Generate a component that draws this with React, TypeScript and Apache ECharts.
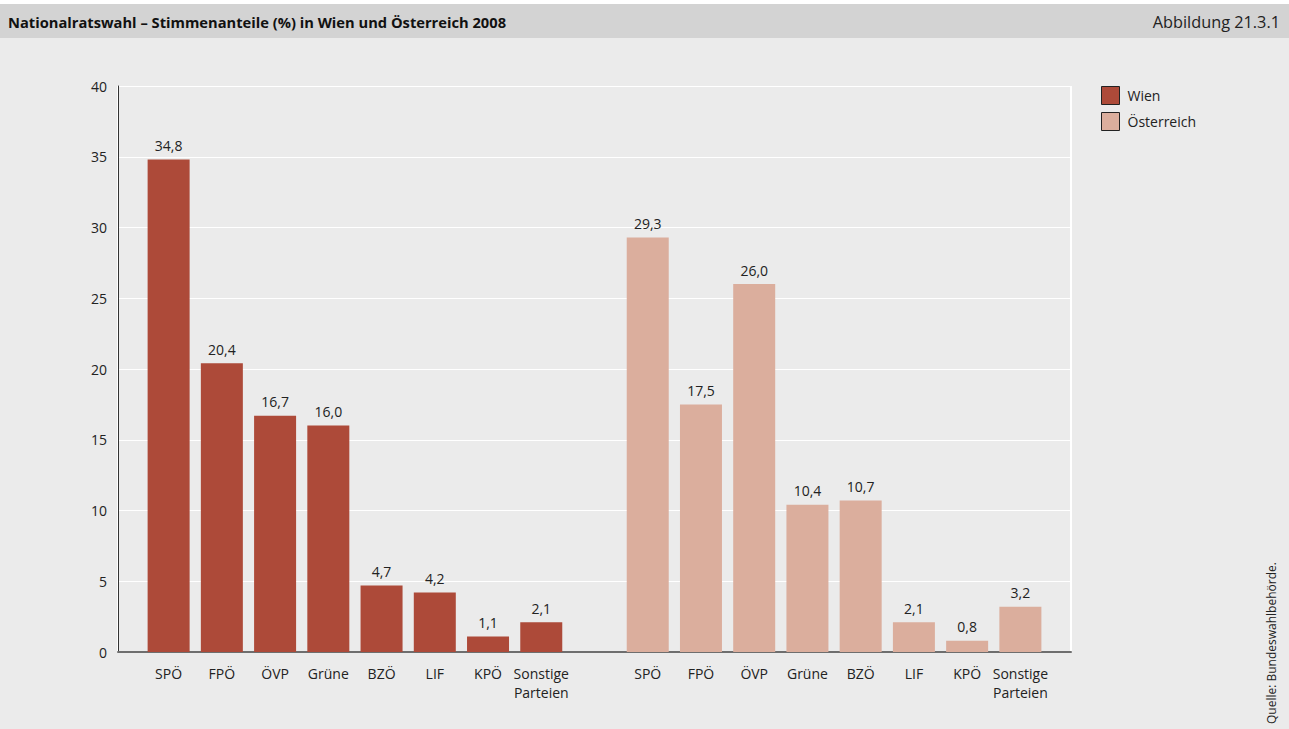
import React, { useEffect, useRef } from "react";
import * as echarts from "echarts";

const parties = ["SPÖ", "FPÖ", "ÖVP", "Grüne", "BZÖ", "LIF", "KPÖ", "Sonstige\nParteien"];
const wienValues = [34.8, 20.4, 16.7, 16.0, 4.7, 4.2, 1.1, 2.1];
const oesterreichValues = [29.3, 17.5, 26.0, 10.4, 10.7, 2.1, 0.8, 3.2];
const seriesNames = ["Wien", "Österreich"];
const yTicks = { min: 0, max: 40, interval: 5 };
const titleText = "Nationalratswahl – Stimmenanteile (%) in Wien und Österreich 2008";
const figureText = "Abbildung 21.3.1";
const sourceText = "Quelle: Bundeswahlbehörde.";

const FONT = "'Open Sans', 'Noto Sans', sans-serif";

export default function App() {
  const ref = useRef<HTMLDivElement>(null);

  useEffect(() => {
    if (!ref.current) return;
    const chart = echarts.init(ref.current, null, { renderer: "svg" });

    const categories = [...parties, "", ...parties];
    const wienData = categories.map((_, i) => (i < 8 ? wienValues[i] : "-"));
    const oeData = categories.map((_, i) => (i > 8 ? oesterreichValues[i - 9] : "-"));
    const fmt = (v: number) => v.toFixed(1).replace(".", ",");

    const labelStyle = {
      show: true,
      position: "top" as const,
      distance: 7,
      color: "#222",
      fontSize: 14,
      fontFamily: FONT,
      formatter: (p: any) => fmt(p.value as number),
    };

    chart.setOption({
      animation: false,
      backgroundColor: "#ebebeb",
      textStyle: { fontFamily: FONT },
      graphic: [
        { type: "rect", shape: { x: 0, y: 0, width: 1289, height: 4 }, style: { fill: "#ffffff" }, z: -1 },
        { type: "rect", shape: { x: 0, y: 4, width: 1289, height: 34 }, style: { fill: "#d3d3d3" }, z: -1 },
        {
          type: "text",
          x: 8,
          y: 22,
          style: { text: titleText, fill: "#111", font: `bold 14.7px ${FONT}`, textVerticalAlign: "middle", textAlign: "left" },
        },
        {
          type: "text",
          x: 1280,
          y: 22,
          style: { text: figureText, fill: "#222", font: `16.3px ${FONT}`, textVerticalAlign: "middle", textAlign: "right" },
        },
        {
          type: "text",
          x: 1277,
          y: 724,
          rotation: Math.PI / 2,
          style: { text: sourceText, fill: "#222", font: `12px ${FONT}`, textAlign: "left", textVerticalAlign: "bottom" },
        },
      ],
      legend: {
        data: seriesNames,
        orient: "vertical",
        left: 1096,
        top: 81,
        icon: "rect",
        itemWidth: 18,
        itemHeight: 18,
        itemGap: 7,
        itemStyle: { borderColor: "#222", borderWidth: 1 },
        textStyle: { color: "#222", fontSize: 14, fontFamily: FONT, padding: [0, 0, 0, 3] },
      },
      grid: [
        { left: 118, right: 218, top: 86, bottom: 77 },
        { left: 142, right: 242, top: 86, bottom: 77 },
      ],
      xAxis: [
        {
          gridIndex: 0,
          type: "value",
          min: 0,
          max: 1,
          interval: 1,
          axisLabel: { show: false },
          axisTick: { show: false },
          axisLine: { show: true, lineStyle: { color: "#6e6e6e", width: 2 } },
          splitLine: { show: true, lineStyle: { color: "#ffffff", width: 2 } },
        },
        {
          gridIndex: 1,
          type: "category",
          data: categories,
          axisLine: { show: false },
          axisTick: { show: false },
          axisLabel: { color: "#222", fontSize: 14, fontFamily: FONT, margin: 12, lineHeight: 19, interval: 0 },
        },
      ],
      yAxis: [
        {
          gridIndex: 0,
          type: "value",
          min: yTicks.min,
          max: yTicks.max,
          interval: yTicks.interval,
          axisLine: { show: true, lineStyle: { color: "#333", width: 1 } },
          axisTick: { show: false },
          axisLabel: { color: "#222", fontSize: 14, fontFamily: FONT, margin: 11 },
          splitLine: { show: true, lineStyle: { color: "#ffffff", width: 1 } },
        },
        {
          gridIndex: 1,
          type: "value",
          min: yTicks.min,
          max: yTicks.max,
          interval: yTicks.interval,
          show: false,
          splitLine: { show: false },
        },
      ],
      series: [
        {
          name: seriesNames[0],
          type: "bar",
          xAxisIndex: 1,
          yAxisIndex: 1,
          data: wienData,
          barWidth: 42,
          barGap: "-100%",
          itemStyle: { color: "#ad4a39" },
          label: labelStyle,
        },
        {
          name: seriesNames[1],
          type: "bar",
          xAxisIndex: 1,
          yAxisIndex: 1,
          data: oeData,
          barWidth: 42,
          barGap: "-100%",
          itemStyle: { color: "#dbae9d" },
          label: labelStyle,
        },
      ],
    });

    return () => chart.dispose();
  }, []);

  return (
    <div
      ref={ref}
      style={{ position: "fixed", left: 0, top: 0, width: 1289, height: 729 }}
    />
  );
}
